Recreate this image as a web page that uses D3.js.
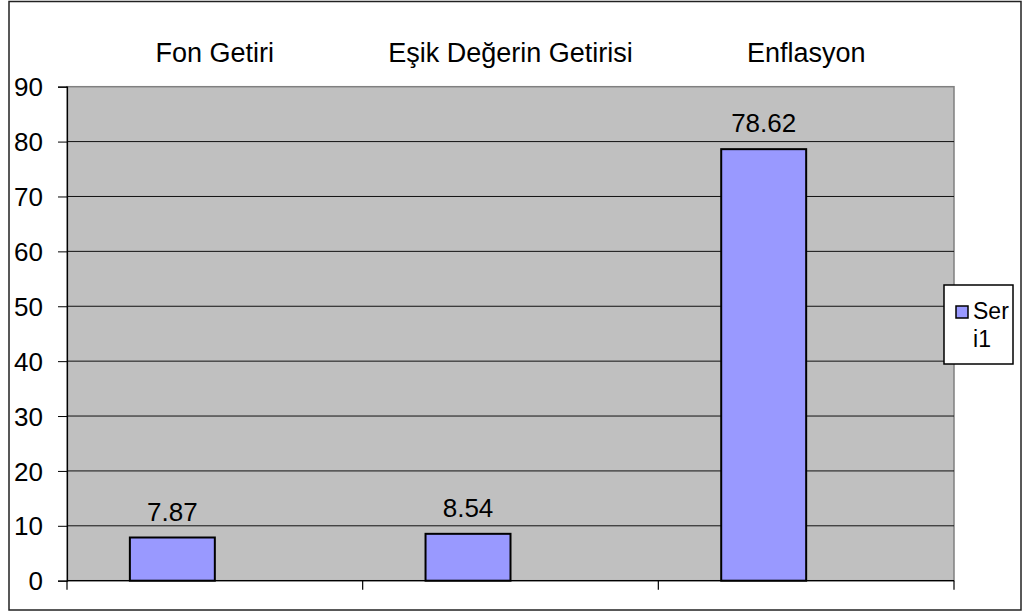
<!DOCTYPE html>
<html lang="en">
<head>
  <meta charset="utf-8">
  <title> Bar Chart </title>
  <script src="https://d3js.org/d3.v7.min.js"></script>
  <style>
    body { margin: 0; background: white; }
    text { font-family: "Liberation Sans", Arial, sans-serif; fill: black; }
  </style>
</head>
<body>
<script>
    var categories = ["Fon Getiri", "Eşik Değerin Getirisi", "Enflasyon"];
    var seriesName = "Seri1";
    var values = [7.87, 8.54, 78.62];
    var yTicks = [0, 10, 20, 30, 40, 50, 60, 70, 80, 90];

    var width = 1023, height = 614;
    var plotLeft = 67, plotRight = 954, plotTop = 86.7, plotBottom = 580.7;

    var svg = d3.select("body").append("svg")
                .attr("width", width).attr("height", height);

    // outer chart border
    svg.append("rect").attr("x", 9).attr("y", 1.5).attr("width", 1012).attr("height", 608.5)
       .attr("fill", "white").attr("stroke", "#222").attr("stroke-width", 1.5);

    var y = d3.scaleLinear().domain([0, 90]).range([plotBottom, plotTop]);
    var x = d3.scaleBand().domain(categories).range([plotLeft, plotRight]);
    // two slots per category, only the first one holds data
    var inner = d3.scaleBand().domain([0, 1]).range([0, x.bandwidth()]).paddingOuter(0.74);

    // plot area
    svg.append("rect").attr("x", plotLeft).attr("y", plotTop)
       .attr("width", plotRight - plotLeft).attr("height", plotBottom - plotTop)
       .attr("fill", "#C0C0C0").attr("stroke", "#808080").attr("stroke-width", 1.5);

    // gridlines
    svg.append("g").selectAll("line").data(yTicks.filter(function(d){ return d > 0 && d < 90; }))
       .enter().append("line")
       .attr("x1", plotLeft).attr("x2", plotRight)
       .attr("y1", function(d){ return y(d); }).attr("y2", function(d){ return y(d); })
       .attr("stroke", "#111").attr("stroke-width", 1);

    // y axis
    var yAxis = svg.append("g").attr("transform", "translate(" + plotLeft + ",0)")
       .call(d3.axisLeft(y).tickValues(yTicks).tickSize(9).tickPadding(15));
    yAxis.select(".domain").attr("stroke", "#000").attr("stroke-width", 1.2);
    yAxis.selectAll("line").attr("stroke", "#000");
    yAxis.selectAll("text").style("font-size", "26px").attr("dy", "0.35em");

    // x axis: ticks at category boundaries
    var bounds = categories.map(function(c){ return x(c); }).concat([plotRight]);
    svg.append("line").attr("x1", plotLeft).attr("x2", plotRight)
       .attr("y1", plotBottom).attr("y2", plotBottom)
       .attr("stroke", "#000").attr("stroke-width", 1.2);
    svg.append("g").selectAll("line").data(bounds).enter().append("line")
       .attr("x1", function(d){ return d; }).attr("x2", function(d){ return d; })
       .attr("y1", plotBottom).attr("y2", plotBottom + 9)
       .attr("stroke", "#000").attr("stroke-width", 1.2);

    // category labels above the plot
    svg.append("g").selectAll("text").data(categories).enter().append("text")
       .attr("x", function(d){ return x(d) + x.bandwidth() / 2; })
       .attr("y", 62)
       .attr("text-anchor", "middle")
       .style("font-size", "27px")
       .text(function(d){ return d; });

    // bars
    svg.append("g").selectAll("rect").data(values).enter().append("rect")
       .attr("x", function(d, i){ return x(categories[i]) + inner(0); })
       .attr("y", function(d){ return y(d); })
       .attr("width", inner.bandwidth())
       .attr("height", function(d){ return plotBottom - y(d); })
       .attr("fill", "#9999FF").attr("stroke", "#000").attr("stroke-width", 2);

    // value labels
    svg.append("g").selectAll("text").data(values).enter().append("text")
       .attr("x", function(d, i){ return x(categories[i]) + inner(0) + inner.bandwidth() / 2; })
       .attr("y", function(d){ return y(d) - 17; })
       .attr("text-anchor", "middle")
       .style("font-size", "26px")
       .text(function(d){ return d.toFixed(2); });

    // legend
    var lg = svg.append("g").attr("transform", "translate(944,285)");
    lg.append("rect").attr("width", 69).attr("height", 79)
      .attr("fill", "white").attr("stroke", "#000").attr("stroke-width", 1.5);
    lg.append("rect").attr("x", 12).attr("y", 21).attr("width", 12).attr("height", 12)
      .attr("fill", "#9999FF").attr("stroke", "#000").attr("stroke-width", 1.5);
    lg.append("text").attr("x", 29).attr("y", 34).style("font-size", "23px").text(seriesName.slice(0, 3));
    lg.append("text").attr("x", 38).attr("y", 62).attr("text-anchor", "middle")
      .style("font-size", "23px").text(seriesName.slice(3));
</script>
</body>
</html>
